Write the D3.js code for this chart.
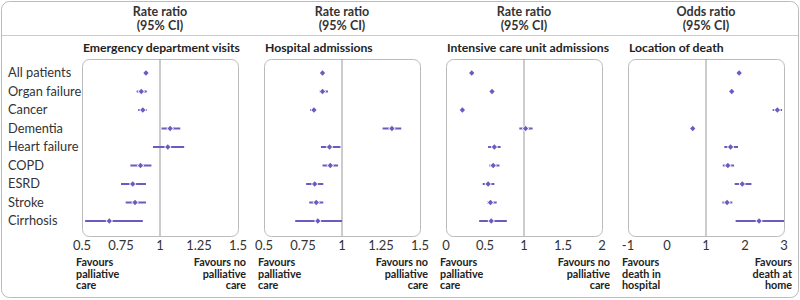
<!DOCTYPE html>
<meta charset="utf-8" />
<title>Forest plots</title>
<style>
  body { margin: 0; background: #fff; }
  svg { display: block; font-family: Lato, "Open Sans", sans-serif; }
  .head { font-size: 12.5px; font-weight: bold; fill: #333; }
  .ptitle { font-size: 12.2px; font-weight: bold; fill: #222; }
  .rowlab { font-size: 12.8px; fill: #333; }
  .tick { font-size: 13px; fill: #333; }
  .fav { font-size: 10.8px; font-weight: bold; fill: #222; }
</style>
<svg width="800" height="300"></svg>
<script src="https://d3js.org/d3.v7.min.js"></script>
<script>
const groups = ["All patients", "Organ failure", "Cancer", "Dementia", "Heart failure", "COPD", "ESRD", "Stroke", "Cirrhosis"];

// estimate, lower, upper for each group
const edVisits = [
  [0.91, 0.90, 0.92], [0.88, 0.85, 0.915], [0.89, 0.86, 0.915], [1.065, 1.01, 1.13],
  [1.05, 0.955, 1.155], [0.875, 0.81, 0.945], [0.825, 0.75, 0.91], [0.84, 0.78, 0.91], [0.675, 0.52, 0.89]
];
const hospAdm = [
  [0.875, 0.87, 0.88], [0.875, 0.855, 0.91], [0.82, 0.795, 0.835], [1.32, 1.26, 1.38],
  [0.92, 0.865, 0.99], [0.925, 0.875, 0.975], [0.825, 0.77, 0.88], [0.835, 0.79, 0.88], [0.845, 0.70, 1.0]
];
const icuAdm = [
  [0.33, 0.32, 0.34], [0.59, 0.58, 0.60], [0.21, 0.20, 0.22], [1.02, 0.94, 1.11],
  [0.62, 0.54, 0.70], [0.605, 0.555, 0.685], [0.54, 0.47, 0.62], [0.57, 0.525, 0.65], [0.58, 0.425, 0.78]
];
const deathLoc = [
  [1.85, 1.83, 1.87], [1.66, 1.64, 1.68], [2.83, 2.71, 2.95], [0.66, 0.64, 0.68],
  [1.63, 1.47, 1.82], [1.56, 1.43, 1.72], [1.93, 1.735, 2.165], [1.54, 1.42, 1.675], [2.36, 1.76, 3.0]
];

const panels = [
  { head: ["Rate ratio", "(95% CI)"], title: "Emergency department visits", data: edVisits,
    domain: [0.5, 1.5], ticks: [0.5, 0.75, 1, 1.25, 1.5],
    favL: ["Favours", "palliative", "care"], favR: ["Favours no", "palliative", "care"] },
  { head: ["Rate ratio", "(95% CI)"], title: "Hospital admissions", data: hospAdm,
    domain: [0.5, 1.5], ticks: [0.5, 0.75, 1, 1.25, 1.5],
    favL: ["Favours", "palliative", "care"], favR: ["Favours no", "palliative", "care"] },
  { head: ["Rate ratio", "(95% CI)"], title: "Intensive care unit admissions", data: icuAdm,
    domain: [0, 2], ticks: [0, 0.5, 1, 1.5, 2],
    favL: ["Favours", "palliative", "care"], favR: ["Favours no", "palliative", "care"] },
  { head: ["Odds ratio", "(95% CI)"], title: "Location of death", data: deathLoc,
    domain: [-1, 3], ticks: [-1, 0, 1, 2, 3],
    favL: ["Favours", "death in", "hospital"], favR: ["Favours", "death at", "home"] }
];

const svg = d3.select("svg");
const purple = "#6a5bc0";
const boxTop = 59, boxBot = 236, boxW = 156;

svg.append("rect").attr("x", 1.5).attr("y", 1.5).attr("width", 797).attr("height", 296)
  .attr("rx", 8).attr("fill", "none").attr("stroke", "#bbb");
svg.append("line").attr("x1", 2).attr("x2", 798).attr("y1", 35.5).attr("y2", 35.5)
  .attr("stroke", "#ccc");

const y = d3.scalePoint().domain(groups).range([73, 221]);

svg.selectAll(".rowlab").data(groups).enter().append("text")
  .attr("class", "rowlab").attr("x", 8).attr("y", d => y(d)).attr("dy", "0.35em").text(d => d);

panels.forEach((p, i) => {
  const x0 = 82 + i * 182;
  const x = d3.scaleLinear().domain(p.domain).range([x0, x0 + boxW]);
  const g = svg.append("g");
  const cx = x0 + boxW / 2;

  g.selectAll(".head").data(p.head).enter().append("text")
    .attr("class", "head").attr("x", cx).attr("y", (d, j) => 16 + j * 13.5)
    .attr("text-anchor", "middle").text(d => d);

  g.append("text").attr("class", "ptitle").attr("x", x0 + 1).attr("y", 52).text(p.title);

  g.append("rect").attr("x", x0 + 0.5).attr("y", boxTop + 0.5)
    .attr("width", boxW).attr("height", boxBot - boxTop)
    .attr("rx", 7).attr("fill", "none").attr("stroke", "#bbb");

  g.append("line").attr("x1", x(1)).attr("x2", x(1))
    .attr("y1", boxTop).attr("y2", boxBot).attr("stroke", "#999");

  g.selectAll(".tick").data(p.ticks).enter().append("text")
    .attr("class", "tick").attr("x", d => x(d)).attr("y", 250)
    .attr("text-anchor", "middle").text(d => String(d));

  g.selectAll(".favL").data(p.favL).enter().append("text")
    .attr("class", "fav").attr("x", x0 - 6).attr("y", (d, j) => 266 + j * 11.5).text(d => d);
  g.selectAll(".favR").data(p.favR).enter().append("text")
    .attr("class", "fav").attr("x", x0 + boxW + 8).attr("y", (d, j) => 266 + j * 11.5)
    .attr("text-anchor", "end").text(d => d);

  const rows = g.selectAll(".row").data(p.data).enter().append("g");
  rows.append("line")
    .attr("x1", d => x(d[1])).attr("x2", d => x(d[2]))
    .attr("y1", (d, j) => y(groups[j])).attr("y2", (d, j) => y(groups[j]))
    .attr("stroke", purple).attr("stroke-width", 2);
  rows.append("path")
    .attr("d", d3.symbol(d3.symbolDiamond2, 18))
    .attr("transform", (d, j) => `translate(${x(d[0])},${y(groups[j])})`)
    .attr("fill", purple).attr("stroke", "#fff").attr("stroke-width", 1.5)
    .attr("paint-order", "stroke");
});
</script>
